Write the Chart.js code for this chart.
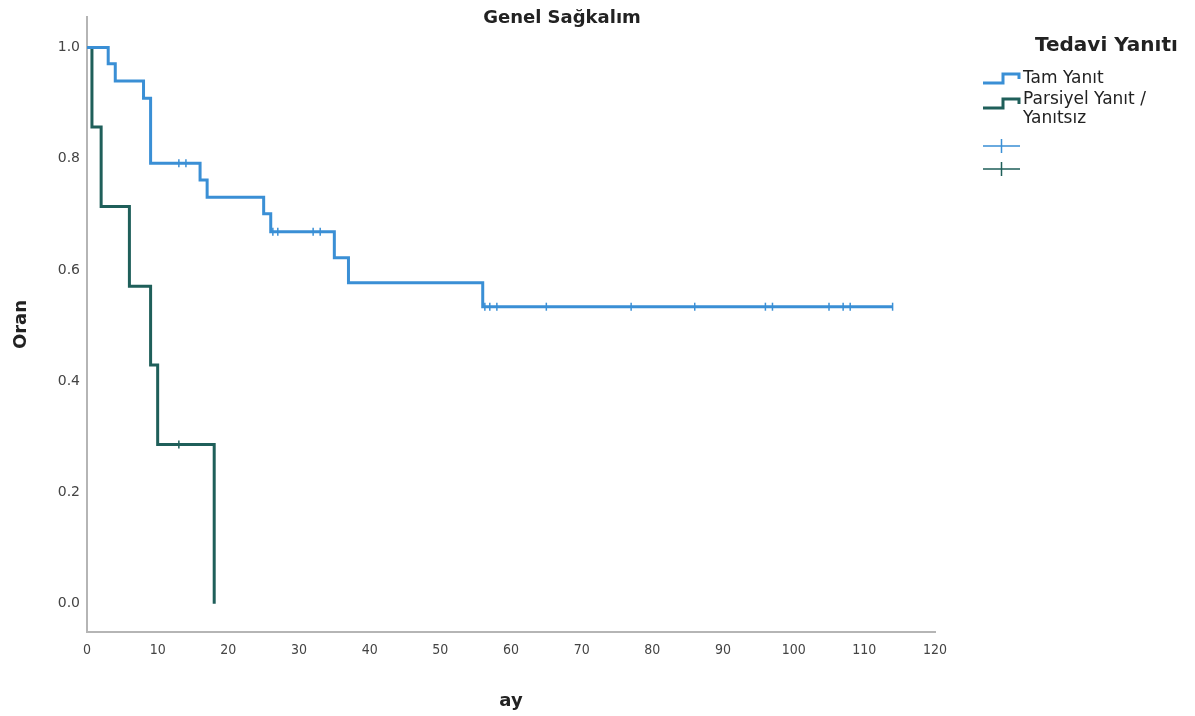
<!DOCTYPE html>
<html>
<head>
<meta charset="utf-8">
<script src="https://cdn.jsdelivr.net/npm/chart.js@4"></script>
<style>
html,body{margin:0;padding:0;background:#fff;}
#wrap{width:1195px;height:716px;position:relative;}
</style>
</head>
<body>
<div id="wrap"><canvas id="c" width="1195" height="716"></canvas></div>
<script>
// ---- data ----
const chartTitle = "Genel Sağkalım";
const xTitle = "ay";
const yTitle = "Oran";
const legendTitle = "Tedavi Yanıtı";
const groupNames = ["Tam Yanıt", "Parsiyel Yanıt /\nYanıtsız"];

const xTicks = [0, 10, 20, 30, 40, 50, 60, 70, 80, 90, 100, 110, 120];
const yTicks = [0.0, 0.2, 0.4, 0.6, 0.8, 1.0];

// Tam Yanıt: event times and survival after each step
const tamTimes = [0, 3, 4, 8, 9, 16, 17, 25, 26, 35, 37, 56, 114];
const tamSurv  = [1.0, 0.971, 0.940, 0.909, 0.792, 0.762, 0.731, 0.701, 0.669, 0.622, 0.577, 0.534, 0.534];
const tamCensorTimes = [13, 14, 26.3, 27, 32, 33, 56.3, 57, 58, 65, 77, 86, 96, 97, 105, 107, 108, 114];
const tamCensorSurv  = [0.792, 0.792, 0.669, 0.669, 0.669, 0.669, 0.534, 0.534, 0.534, 0.534, 0.534, 0.534, 0.534, 0.534, 0.534, 0.534, 0.534, 0.534];

// Parsiyel Yanıt / Yanıtsız
const parTimes = [0, 0.7, 2, 6, 9, 10, 18];
const parSurv  = [1.0, 0.857, 0.714, 0.571, 0.429, 0.286, 0.0];
const parCensorTimes = [13];
const parCensorSurv  = [0.286];

const blue = "#3a8fd5";
const green = "#1f5f5a";

function pts(xs, ys){ return xs.map((x,i)=>({x:x, y:ys[i]})); }

const overlay = {
  id: 'overlay',
  afterDraw(chart){
    const ctx = chart.ctx;
    ctx.save();
    // chart title
    ctx.fillStyle = "#222";
    ctx.font = "bold 18px 'DejaVu Sans'";
    ctx.textAlign = "center";
    ctx.textBaseline = "middle";
    ctx.fillText(chartTitle, 562, 18);
    // legend title
    ctx.font = "bold 20px 'DejaVu Sans'";
    ctx.textAlign = "left";
    ctx.fillText(legendTitle, 1035, 46);
    // legend entries
    const cols = [blue, green];
    const tops = [73, 98];
    ctx.lineWidth = 3;
    ctx.lineJoin = "miter";
    for (let i=0;i<2;i++){
      const t = tops[i];
      ctx.strokeStyle = cols[i];
      ctx.beginPath();
      ctx.moveTo(983, t+10);
      ctx.lineTo(1003, t+10);
      ctx.lineTo(1003, t+1);
      ctx.lineTo(1019, t+1);
      ctx.lineTo(1019, t+6);
      ctx.stroke();
    }
    ctx.fillStyle = "#222";
    ctx.font = "17px 'DejaVu Sans'";
    ctx.textBaseline = "middle";
    ctx.fillText(groupNames[0], 1023, 79);
    const lines = groupNames[1].split("\n");
    ctx.fillText(lines[0], 1023, 100);
    ctx.fillText(lines[1], 1023, 119);
    // censor icons
    const cy = [146, 169];
    for (let i=0;i<2;i++){
      ctx.strokeStyle = cols[i];
      ctx.lineWidth = 1.5;
      ctx.beginPath();
      ctx.moveTo(983, cy[i]); ctx.lineTo(1020, cy[i]);
      ctx.moveTo(1001.5, cy[i]-7); ctx.lineTo(1001.5, cy[i]+7);
      ctx.stroke();
    }
    ctx.restore();
  }
};

new Chart(document.getElementById('c'), {
  type: 'line',
  data: {
    datasets: [
      { label: groupNames[0], data: pts(tamTimes, tamSurv), borderColor: blue, borderWidth: 3, pointRadius: 0, stepped: 'before', fill: false },
      { label: groupNames[1], data: pts(parTimes, parSurv), borderColor: green, borderWidth: 3, pointRadius: 0, stepped: 'before', fill: false },
      { label: 'tam censored', data: pts(tamCensorTimes, tamCensorSurv), showLine: false, pointStyle: 'line', rotation: 90, pointRadius: 4, pointBorderWidth: 1.5, borderColor: blue, backgroundColor: blue },
      { label: 'par censored', data: pts(parCensorTimes, parCensorSurv), showLine: false, pointStyle: 'line', rotation: 90, pointRadius: 4, pointBorderWidth: 1.5, borderColor: green, backgroundColor: green }
    ]
  },
  options: {
    responsive: false,
    animation: false,
    layout: { padding: { top: 17, right: 260, left: 0, bottom: 0 } },
    plugins: { legend: { display: false }, tooltip: { enabled: false }, title: { display: false } },
    scales: {
      x: {
        type: 'linear', min: 0, max: 120,
        afterBuildTicks: s => { s.ticks = xTicks.map(v => ({ value: v })); },
        afterFit: s => { s.height = 84; },
        grid: { display: false, drawTicks: false },
        border: { display: true, color: '#b5b5b5', width: 2 },
        ticks: { padding: 10, color: '#444', font: { family: "'DejaVu Sans Condensed', 'DejaVu Sans'", size: 14 }, maxRotation: 0, callback: v => String(v) },
        title: { display: true, text: xTitle, color: '#222', font: { family: "'DejaVu Sans'", size: 18, weight: 'bold' }, padding: { top: 16 } }
      },
      y: {
        type: 'linear', min: -0.051, max: 1.055,
        afterBuildTicks: s => { s.ticks = yTicks.map(v => ({ value: v })); },
        afterFit: s => { s.width = 87; },
        grid: { display: false, drawTicks: false },
        border: { display: true, color: '#b5b5b5', width: 2 },
        ticks: { padding: 7, color: '#444', font: { family: "'DejaVu Sans'", size: 14 }, callback: v => Number(v).toFixed(1) },
        title: { display: true, text: yTitle, color: '#222', font: { family: "'DejaVu Sans'", size: 18, weight: 'bold' }, padding: { top: 11 } }
      }
    }
  },
  plugins: [overlay]
});
</script>
</body>
</html>
